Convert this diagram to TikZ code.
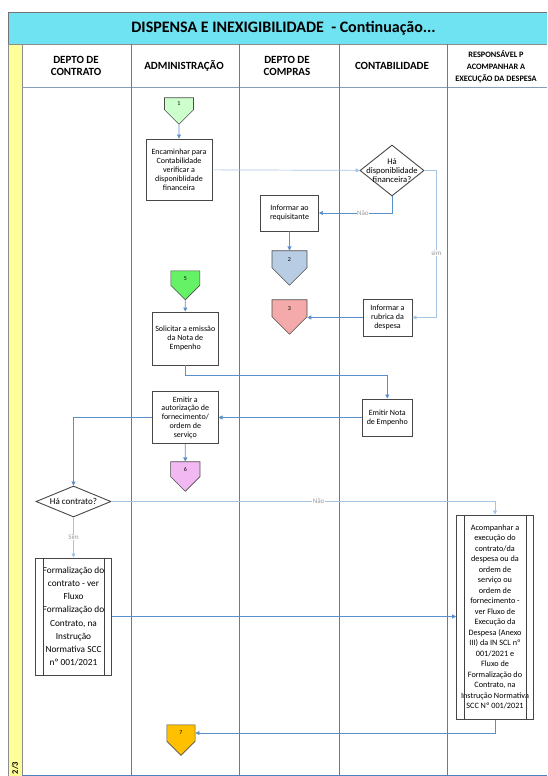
\documentclass[tikz,border=0pt]{standalone}
\usepackage{fontspec}
\setmainfont{Carlito}
\usepackage{tikz}
\usetikzlibrary{shapes.geometric,shapes.symbols,arrows.meta}

\definecolor{lanecol}{HTML}{4F81BD}
\definecolor{flowcol}{HTML}{5B8FC9}
\definecolor{lightcol}{HTML}{A4C4E4}
\definecolor{titlecol}{HTML}{6FE3F2}
\definecolor{stripcol}{HTML}{FFFF99}
\definecolor{onecol}{HTML}{CCFFCC}
\definecolor{twocol}{HTML}{B8CCE4}
\definecolor{threecol}{HTML}{F4AAAA}
\definecolor{fivecol}{HTML}{66F266}
\definecolor{sixcol}{HTML}{F2B8F2}
\definecolor{sevencol}{HTML}{FFC000}

\begin{document}
\begin{tikzpicture}[x=1pt,y=-1pt,
    bnode/.style={draw=black!72, line width=0.9pt, fill=white, align=center, inner sep=1pt, font=\fontsize{8}{8.8}\selectfont},
    dnode/.style={draw=black!72, line width=0.9pt, fill=white, diamond, inner sep=0pt},
    onode/.style={signal, signal to=south, draw=black!70, line width=0.6pt, inner sep=0pt, font=\fontsize{6}{7}\selectfont},
    hnode/.style={align=center, font=\bfseries\fontsize{11}{12.5}\selectfont},
    flow/.style={draw=flowcol, line width=0.7pt, -{Triangle[width=4pt,length=4pt]}},
    lflow/.style={flow, draw=lightcol},
    lbl/.style={fill=white, inner sep=0.5pt, text=black!40, font=\fontsize{7}{8}\selectfont}]
    \useasboundingbox (0,0) rectangle (547,776);

    % frame, title and lanes
    \fill[titlecol] (8.5,12) rectangle (547,44);
    \draw[black!55, line width=0.8pt] (547,12) -- (8.5,12) -- (8.5,776);
    \draw[black!45, fill=stripcol] (8.5,44) rectangle (22,776);
    \draw[black!45] (22,44) -- (547,44);
    \draw[lanecol!70!black!60, line width=0.8pt] (22,87) -- (547,87);
    \foreach \x in {131.5,239,339.5,447}
        \draw[lanecol, line width=0.8pt] (\x,44) -- (\x,776);
    \draw[lanecol, line width=0.8pt] (22,775) -- (547,775);

    \node[font=\bfseries\fontsize{16}{18}\selectfont] (ttl) at (283.5,28.5) {DISPENSA E INEXIGIBILIDADE~~- Continuação...};
    \node[hnode] (h1) at (76,66) {DEPTO DE\\CONTRATO};
    \node[hnode] (h2) at (184,66) {ADMINISTRAÇÃO};
    \node[hnode] (h3) at (287,66) {DEPTO DE\\COMPRAS};
    \node[hnode] (h4) at (392,66) {CONTABILIDADE};
    \node[hnode, font=\bfseries\fontsize{8.3}{12}\selectfont] (h5) at (496,67) {RESPONSÁVEL P\\ACOMPANHAR A\\EXECUÇÃO DA DESPESA};
    \node[rotate=90, font=\bfseries\fontsize{8.5}{9}\selectfont] (pg) at (15,768) {2/3};

    % steps
    \node[onode, fill=onecol, minimum width=29pt, minimum height=13.5pt] (c1) at (179,103.75) {1};
    \node[bnode, minimum width=66pt, minimum height=61.5pt] (enc) at (179,169.75) {Encaminhar para\\Contabilidade\\verificar a\\disponiblidade\\financeira};
    \node[dnode, minimum width=64pt, minimum height=51pt] (disp) at (392,170.5) {};
    \node[align=center, font=\fontsize{8.6}{9.2}\selectfont] (dispt) at (disp) {Há\\disponiblidade\\financeira?};
    \node[bnode, minimum width=58pt, minimum height=36pt] (req) at (289.5,213) {Informar ao\\requisitante};
    \node[onode, fill=twocol, minimum width=35pt, minimum height=18.5pt] (c2) at (289.5,259.25) {2};
    \node[bnode, minimum width=49pt, minimum height=37pt] (rub) at (387.5,317.5) {Informar a\\rubrica da\\despesa};
    \node[onode, fill=threecol, minimum width=35pt, minimum height=18.5pt] (c3) at (289.5,308.25) {3};
    \node[onode, fill=fivecol, minimum width=29pt, minimum height=16pt] (c5) at (185.3,278.1) {5};
    \node[bnode, minimum width=65.5pt, minimum height=53pt] (sol) at (185.3,338.5) {Solicitar a emissão\\da Nota de\\Empenho};
    \node[bnode, minimum width=50.7pt, minimum height=37pt] (nota) at (387.3,417.5) {Emitir Nota\\de Empenho};
    \node[bnode, minimum width=65.5pt, minimum height=52pt] (aut) at (185.3,417.6) {Emitir a\\autorização de\\fornecimento/\\ordem de\\serviço};
    \node[onode, fill=sixcol, minimum width=29.3pt, minimum height=16.4pt] (c6) at (185.3,469.2) {6};
    \node[dnode, minimum width=75pt, minimum height=31pt] (hc) at (73.5,501.5) {};
    \node[font=\fontsize{9}{10}\selectfont] (hct) at (hc) {Há contrato?};
    \node[bnode, line width=1pt, minimum width=75.7pt, minimum height=117pt, font=\fontsize{9.3}{13.2}\selectfont] (form) at (73.5,616.5) {Formalização do\\contrato - ver\\Fluxo\\Formalização do\\Contrato, na\\Instrução\\Normativa SCC\\nº 001/2021};
    \node[bnode, line width=1pt, minimum width=76.6pt, minimum height=204pt, font=\fontsize{8.2}{10.5}\selectfont] (acomp) at (495,617) {Acompanhar a\\execução do\\contrato/da\\despesa ou da\\ordem de\\serviço ou\\ordem de\\fornecimento -\\ver Fluxo de\\Execução da\\Despesa (Anexo\\III) da IN SCL nº\\001/2021 e\\Fluxo de\\Formalização do\\Contrato, na\\Instrução Normativa\\SCC Nº 001/2021};
    \node[onode, fill=sevencol, minimum width=28.3pt, minimum height=17.9pt] (c7) at (181,733) {7};

    \foreach \n in {form,acomp} {
        \draw[black!75, line width=0.8pt] ([xshift=7.8pt]\n.north west) -- ([xshift=7.8pt]\n.south west);
        \draw[black!75, line width=0.8pt] ([xshift=-7.8pt]\n.north east) -- ([xshift=-7.8pt]\n.south east);
    }

    % flows
    \draw[flow] (c1) -- (enc);
    \draw[lflow] (enc) -- (disp);
    \draw[flow] (disp.south) |- node[lbl, pos=0.7] {Não} (req.east);
    \draw[flow] (req) -- (c2);
    \draw[lflow] (disp.east) -- ++(12,0) |- node[lbl, pos=0.28] {sim} (rub.east);
    \draw[flow] (rub.west) -- (rub.west -| c3.east);
    \draw[flow] (c5) -- (sol);
    \draw[flow] (sol.south) -- ++(0,10) -| (nota.north);
    \draw[flow] (nota.west) -- (nota.west -| aut.east);
    \draw[flow] (aut) -- (c6);
    \draw[flow] (aut.west) -| (hc.north);
    \draw[lflow] (hc.east) -| node[lbl, pos=0.27] {Não} (acomp.north);
    \draw[lflow] (hc.south) -- node[lbl] {Sim} (form.north);
    \draw[flow] (form.east) -- (form.east -| acomp.west);
    \draw[flow] (acomp.south) |- (c7.east);
\end{tikzpicture}
\end{document}
